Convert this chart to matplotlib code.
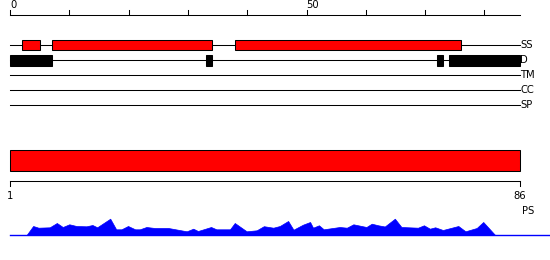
import matplotlib
matplotlib.use("Agg")
import matplotlib.pyplot as plt
from matplotlib.patches import Rectangle

# ---- data ----
seq_length = 86
top_ticks = list(range(0, 90, 10))
top_tick_labels = {0: "0", 50: "50"}
track_names = ["SS", "D", "TM", "CC", "SP"]
ss_segments = [(2, 5), (7, 34), (38, 76)]
d_segments = [(0, 7), (33, 34), (72, 73), (74, 86)]
bottom_bar = (0, 86)
bottom_labels = ["1", "86"]
profile_label = "PS"
profile_pos = [2.8, 3.9, 4.8, 6.7, 7.9, 8.9, 10.0, 11.2, 12.9, 13.9, 14.7, 16.9,
               17.9, 18.8, 19.9, 21.1, 21.9, 23.0, 24.4, 26.7, 29.8, 30.9, 31.7,
               33.9, 34.8, 37.1, 37.9, 39.9, 41.6, 42.8, 44.4, 45.5, 46.9, 47.8,
               49.4, 50.6, 51.1, 52.1, 52.9, 55.6, 56.8, 57.9, 60.1, 61.0, 62.1,
               63.2, 64.9, 66.0, 68.8, 69.8, 70.8, 71.7, 73.0, 75.6, 76.8, 78.7,
               79.8, 81.8]
profile_val = [0, 9, 7.3, 7.7, 12, 8, 10.7, 9, 8.7, 10, 7.7, 16.3,
               5.7, 5.7, 9, 5.7, 5.7, 8, 7, 7, 3.7, 6.3, 4,
               8, 5.7, 5.7, 12, 3.7, 4.7, 8.8, 7.3, 9, 14, 5.3,
               10.3, 13, 7.3, 9.7, 5.7, 8, 7.3, 10.7, 8, 11.3, 9.7,
               8.5, 16.3, 8, 7.3, 9.7, 6.3, 7.7, 5, 9, 3.7, 7,
               13, 0]

# ---- layout (y in pixel rows) ----
W, H = 550, 260
px = 510 / 86.0
fig = plt.figure(figsize=(W / 100, H / 100), dpi=100)
ax = fig.add_axes([0, 0, 1, 1])
ax.set_xlim(-10 / px, (W - 10) / px)
ax.set_ylim(H, 0)
ax.axis("off")
lw = 0.75
fs = 7.2

# top ruler
axis_y = 15
ax.plot([0, seq_length], [axis_y, axis_y], color="black", lw=lw)
for t in top_ticks:
    ax.plot([t, t], [axis_y, axis_y - 5], color="black", lw=lw)
    if t in top_tick_labels:
        ax.text(t, 0.5, top_tick_labels[t], ha="left", va="top", fontsize=fs,
                color="black")

# tracks
row_y = {name: 45 + 15 * i for i, name in enumerate(track_names)}
for name in track_names:
    y = row_y[name]
    ax.plot([0, seq_length], [y, y], color="black", lw=lw, zorder=1)
    ax.text(seq_length + 0.05, y, name, ha="left", va="center", fontsize=fs,
            color="black")

for s, e in ss_segments:
    ax.add_patch(Rectangle((s, row_y["SS"] - 5), e - s, 10, facecolor="#ff0000",
                           edgecolor="black", lw=lw, zorder=2))
for s, e in d_segments:
    ax.add_patch(Rectangle((s, row_y["D"] - 5.5), e - s, 11, facecolor="black",
                           edgecolor="black", lw=lw, zorder=2))

# bottom bar
ax.add_patch(Rectangle((bottom_bar[0], 150), bottom_bar[1] - bottom_bar[0], 21,
                       facecolor="#ff0000", edgecolor="black", lw=lw))
by = 181
ax.plot([0, seq_length], [by, by], color="black", lw=lw)
ax.plot([0, 0], [by, by + 4.5], color="black", lw=lw)
ax.plot([seq_length, seq_length], [by, by + 4.5], color="black", lw=lw)
ax.text(0, 196, bottom_labels[0], ha="center", va="center", fontsize=fs)
ax.text(seq_length, 196, bottom_labels[1], ha="center", va="center", fontsize=fs)
ax.text(seq_length + 0.3, 210.5, profile_label, ha="left", va="center", fontsize=fs)

# profile
base = 235
ax.plot([0, (W - 10) / px], [base, base], color="#0000ff", lw=1.0)
ys = [base - v for v in profile_val]
ax.fill_between(profile_pos, ys, base, color="#0000ff", lw=0.5, edgecolor="#0000ff")

fig.savefig("out.png", dpi=100)
